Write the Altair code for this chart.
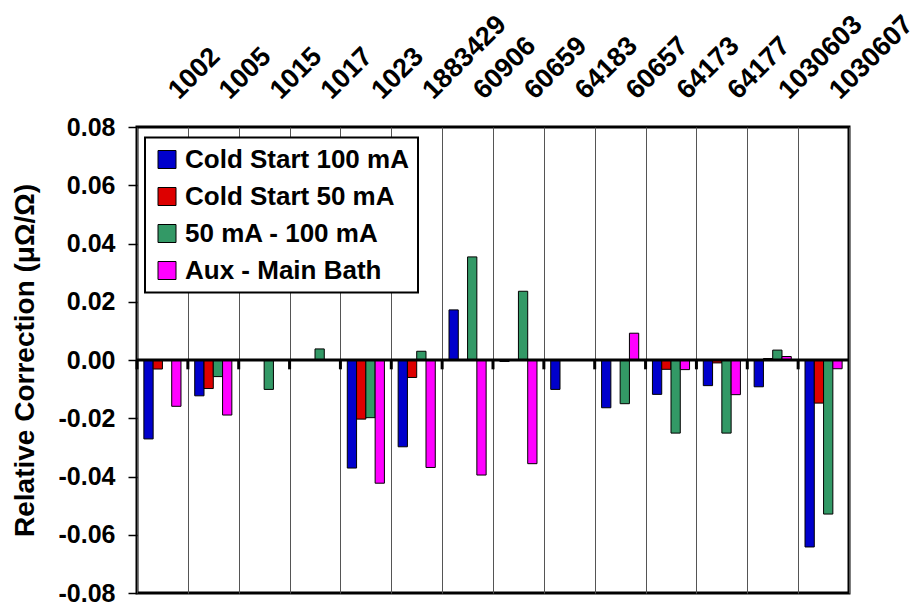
import altair as alt
import pandas as pd

categories = ["1002", "1005", "1015", "1017", "1023", "1883429", "60906",
              "60659", "64183", "60657", "64173", "64177", "1030603", "1030607"]
series = ["Cold Start 100 mA", "Cold Start 50 mA", "50 mA - 100 mA", "Aux - Main Bath"]
colors = ["#0000CC", "#DD0000", "#339966", "#FF00FF"]

cold100 = [-0.0271, -0.0123, None, None, -0.0371, -0.0298, 0.0172,
           -0.0005, -0.0101, -0.0164, -0.0118, -0.0088, -0.0092, -0.0642]
cold50 = [-0.0031, -0.0098, None, None, -0.0203, -0.0060, None,
          None, None, None, -0.0032, -0.0010, 0.0005, -0.0148]
diff50_100 = [None, -0.0057, -0.0101, 0.0038, -0.0198, 0.0030, 0.0354,
              0.0236, None, -0.0150, -0.0251, -0.0251, 0.0034, -0.0529]
aux_main = [-0.0159, -0.0189, None, None, -0.0423, -0.0369, -0.0395,
            -0.0356, None, 0.0092, -0.0033, -0.0119, 0.0012, -0.0030]

y_ticks = [-0.08, -0.06, -0.04, -0.02, 0.0, 0.02, 0.04, 0.06, 0.08]

rows = []
for s, vals in zip(series, [cold100, cold50, diff50_100, aux_main]):
    for c, v in zip(categories, vals):
        if v is not None:
            rows.append({"Sample": c, "Series": s, "Value": v})
df = pd.DataFrame(rows)

FONT = "Liberation Sans"
W, H = 712, 466

xscale = alt.Scale(domain=categories, paddingInner=0, paddingOuter=0)
yscale = alt.Scale(domain=[-0.08, 0.08], nice=False, zero=False)

bars = alt.Chart(df).mark_bar(stroke="black", strokeWidth=1).encode(
    x=alt.X("Sample:N", scale=xscale, sort=categories,
            axis=alt.Axis(orient="top", title=None, labelAngle=-45,
                          labelAlign="left", labelBaseline="alphabetic",
                          labelPadding=27, labelOffset=16, ticks=False,
                          domain=False, grid=True, tickBand="extent",
                          gridColor="#555555", gridWidth=1,
                          labelFont=FONT, labelFontSize=27,
                          labelFontWeight="bold", labelColor="black")),
    xOffset=alt.XOffset("Series:N", sort=series,
                        scale=alt.Scale(domain=series, paddingInner=0, paddingOuter=0.74)),
    y=alt.Y("Value:Q", scale=yscale,
            axis=alt.Axis(values=y_ticks,
                          labelExpr="replace(format(datum.value, '.2f'), '\u2212', '-')",
                          tickSize=9, tickWidth=1.5, tickColor="black",
                          domain=False, grid=False, labelPadding=13,
                          labelFont=FONT, labelFontSize=25, labelFontWeight="bold",
                          labelColor="black",
                          title="Relative Correction (μΩ/Ω)", titleFont=FONT,
                          titleFontSize=28, titleFontWeight="bold", titleColor="black",
                          titleX=-104, titleY=233, titleAngle=270,
                          titleAlign="center", titleBaseline="alphabetic")),
    color=alt.Color("Series:N", sort=series,
                    scale=alt.Scale(domain=series, range=colors),
                    legend=alt.Legend(orient="none", legendX=8, legendY=10.5,
                                      title=None, fillColor="white",
                                      strokeColor="black", padding=9,
                                      symbolType="square", symbolSize=324,
                                      symbolStrokeColor="black", symbolStrokeWidth=1,
                                      symbolOpacity=1,
                                      labelFont=FONT, labelFontSize=26,
                                      labelFontWeight="bold", labelColor="black",
                                      labelOffset=5, rowPadding=11, labelLimit=400)),
)

zero_line = alt.Chart(pd.DataFrame({"v": [0.0]})).mark_rule(
    color="black", strokeWidth=3).encode(y=alt.Y("v:Q", scale=yscale))

zero_ticks = alt.Chart(pd.DataFrame({"Sample": categories})).mark_rule(
    color="black", strokeWidth=3).encode(
    x=alt.X("Sample:N", sort=categories, scale=xscale, bandPosition=0),
    y=alt.datum(0.0),
    y2=alt.datum(-0.0032),
)

chart = alt.layer(bars, zero_line, zero_ticks).properties(
    width=W, height=H,
    autosize=alt.AutoSizeParams(type="none"),
    padding={"left": 137, "top": 127, "right": 73, "bottom": 14},
).configure_view(stroke="black", strokeWidth=3).configure_legend(strokeWidth=2)

chart.save("out.html", embed_options={"renderer": "svg", "actions": False})
